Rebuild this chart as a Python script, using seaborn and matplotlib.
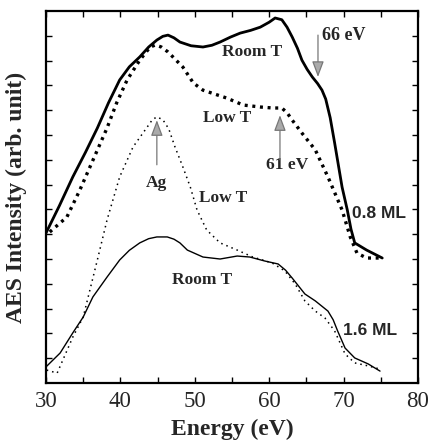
import matplotlib
matplotlib.use("Agg")
import matplotlib.pyplot as plt
import seaborn as sns
import pandas as pd

# ---- data ----
e_rt08 = [30.0, 31.8, 33.6, 35.3, 36.9, 38.4, 39.9, 41.2, 42.6, 43.8, 44.9, 45.7, 46.4, 47.2, 48.0,
          49.5, 51.1, 52.3, 53.4, 54.8, 56.1, 57.5, 58.8, 60.0, 60.8, 61.7, 62.4, 63.1, 63.8,
          64.4, 65.1, 65.8, 66.5, 67.1, 67.6, 68.2, 68.8, 69.8, 70.5, 71.0, 71.5, 73.1, 75.2]
i_rt08 = [6.05, 7.15, 8.31, 9.3, 10.28, 11.3, 12.22, 12.75, 13.15, 13.55, 13.83, 13.98, 14.03, 13.92, 13.75,
          13.6, 13.55, 13.62, 13.75, 13.95, 14.11, 14.22, 14.35, 14.55, 14.72, 14.65, 14.35, 13.95, 13.5,
          13.02, 12.65, 12.34, 12.08, 11.81, 11.45, 10.7, 9.68, 7.9, 6.98, 6.2, 5.65, 5.36, 5.04]

e_lt08 = [30.5, 32.8, 34.5, 36.4, 38.2, 39.5, 40.9, 42.6, 44.0, 44.7, 45.5, 46.4, 48.4, 49.8, 51.1,
          52.7, 54.3, 56.5, 58.8, 60.5, 61.7, 62.4, 63.1, 64.4, 66.2, 67.9, 69.8, 70.9, 71.8,
          73.1, 74.9]
i_lt08 = [6.09, 6.69, 7.75, 9.05, 10.28, 11.3, 12.22, 13.02, 13.55, 13.63, 13.55, 13.35, 12.74, 12.10, 11.81,
          11.65, 11.49, 11.21, 11.13, 11.09, 11.09, 10.9, 10.6, 10.08, 9.4, 8.31, 6.98, 5.89, 5.24,
          5.04, 5.04]

e_rt16 = [30.0, 31.9, 33.6, 35.0, 36.3, 38.2, 39.9, 41.2, 42.6, 43.8, 44.9, 46.3, 47.2, 48.0, 49.0, 51.1,
          53.4, 55.7, 57.4, 59.4, 61.2, 62.2, 63.1, 64.8, 66.2, 67.9, 68.6, 69.2, 70.2, 71.5, 73.3,
          74.9]
i_rt16 = [0.65, 1.21, 2.02, 2.66, 3.47, 4.27, 4.96, 5.35, 5.65, 5.82, 5.89, 5.89, 5.8, 5.65, 5.36, 5.08,
          5.0, 5.12, 5.08, 4.92, 4.8, 4.55, 4.23, 3.59, 3.31, 2.9, 2.55, 2.1, 1.41, 1.01, 0.77,
          0.48]

e_lt16 = [30.1, 31.5, 33.6, 35.0, 35.9, 36.9, 38.2, 39.9, 41.7, 43.6, 44.3, 44.9, 45.7, 46.5, 47.3, 48.4,
          49.4, 50.3, 51.6, 53.4, 55.7, 57.8, 60.4, 62.1, 63.5, 64.8, 66.2, 67.5, 68.8, 70.2,
          71.5, 73.3, 74.9]
i_lt16 = [0.52, 0.40, 1.85, 2.66, 3.75, 4.96, 6.57, 8.31, 9.52, 10.32, 10.62, 10.73, 10.62, 10.25, 9.55, 8.71,
          7.9, 6.98, 6.17, 5.65, 5.36, 5.08, 4.84, 4.52, 3.99, 3.31, 2.9, 2.62, 2.10, 1.17,
          0.81, 0.69, 0.56]

x_ticks = [30, 40, 50, 60, 70, 80]

# ---- style ----
sns.set_theme(style="ticks")
plt.rcParams["font.family"] = ["Liberation Serif", "DejaVu Serif"]
plt.rcParams["font.weight"] = "bold"

fig = plt.figure(figsize=(4.3, 4.42), dpi=100)
ax = fig.add_axes([0.107, 0.1335, 0.865, 0.8415])

def draw(e, i, **kw):
    df = pd.DataFrame({"Energy": e, "Intensity": i})
    sns.lineplot(data=df, x="Energy", y="Intensity", sort=False, estimator=None, ax=ax, **kw)

draw(e_rt08, i_rt08, color="black", lw=2.0, linestyle="-")
draw(e_lt08, i_lt08, color="black", lw=2.4, linestyle=(0, (0.9, 1.4)))
draw(e_rt16, i_rt16, color="black", lw=1.0, linestyle="-")
draw(e_lt16, i_lt16, color="black", lw=1.1, linestyle=(0, (1, 2.6)))

ax.set_xlim(30, 80)
ax.set_ylim(0, 15)
ax.set_xticks(x_ticks)
ax.set_xticks(range(35, 80, 10), minor=True)
ax.set_yticks(range(1, 15))
ax.set_yticklabels([])
ax.tick_params(axis="both", which="both", direction="in", top=True, right=True,
               length=4, width=1.0, color="black")
ax.tick_params(axis="x", labelsize=16.5, pad=6)
for lab in ax.get_xticklabels():
    lab.set_fontweight("normal")
for s in ax.spines.values():
    s.set_linewidth(1.6)
    s.set_color("black")

ax.set_xlabel("Energy (eV)", fontsize=17, fontweight="bold", labelpad=5)
ax.set_ylabel("AES Intensity (arb. unit)", fontsize=17, fontweight="bold", labelpad=10)

# ---- annotations ----
tk = dict(fontsize=12.5, fontweight="bold", ha="center", va="center")
ax.text(57.7, 13.35, "Room T", **tk)
ax.text(54.3, 10.68, "Low T", **tk)
ax.text(44.9, 8.06, "Ag", **tk)
ax.text(53.8, 7.46, "Low T", **tk)
ax.text(51.0, 4.15, "Room T", **tk)
ax.text(62.4, 8.79, "61 eV", **tk)
ax.text(67.1, 14.03, "66 eV", fontsize=13, fontweight="bold", ha="left", va="center")
ax.text(71.1, 6.85, "0.8 ML", fontsize=12.5, fontweight="bold", ha="left", va="center",
        family=["Liberation Sans", "DejaVu Sans"])
ax.text(69.9, 2.1, "1.6 ML", fontsize=12.5, fontweight="bold", ha="left", va="center",
        family=["Liberation Sans", "DejaVu Sans"])

ap = dict(arrowstyle="-|>,head_length=0.8,head_width=0.3", color="#777777", fc="#aaaaaa",
          lw=0.9, shrinkA=0, shrinkB=0)
ax.annotate("", xy=(44.9, 10.6), xytext=(44.9, 8.8), arrowprops=ap)
ax.annotate("", xy=(61.45, 10.8), xytext=(61.45, 9.0), arrowprops=ap)
ax.annotate("", xy=(66.56, 12.34), xytext=(66.56, 14.03), arrowprops=ap)

fig.savefig("out.png", dpi=100)
